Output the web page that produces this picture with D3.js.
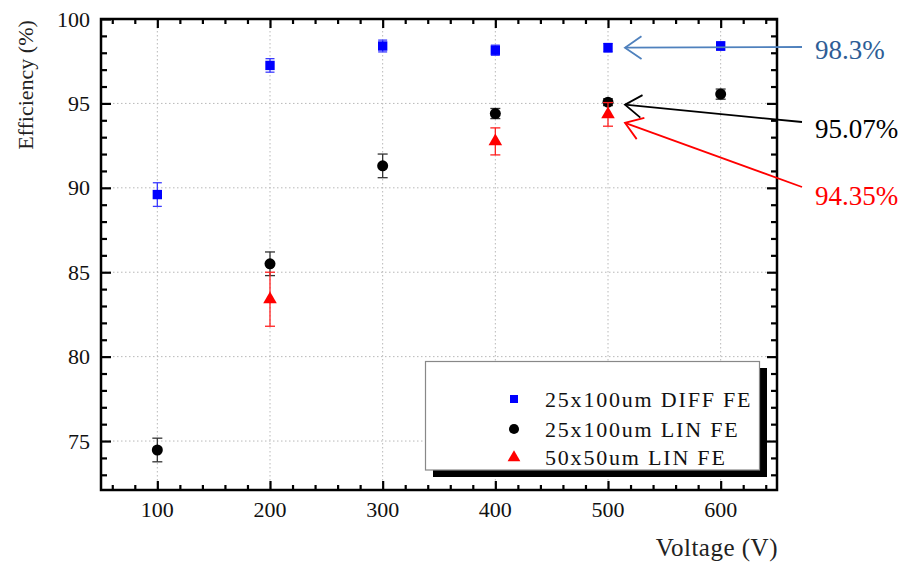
<!DOCTYPE html>
<html><head><meta charset="utf-8">
<script src="https://cdn.jsdelivr.net/npm/d3@7/dist/d3.min.js"></script>
<style>
html,body{margin:0;padding:0;background:#fff;}
</style></head>
<body><svg id="chart" width="904" height="563"></svg>
<script>
// ---- data ----
const voltages = [100, 200, 300, 400, 500, 600];
const diffEff = [89.6, 97.25, 98.4, 98.15, 98.3, 98.4];
const diffErr = [0.7, 0.4, 0.35, 0.3, 0.25, 0.25];
const linEff = [74.47, 85.5, 91.3, 94.4, 95.07, 95.55];
const linErr = [0.7, 0.7, 0.7, 0.3, 0.2, 0.3];
const lin50Volt = [200, 400, 500];
const lin50Eff = [83.4, 92.75, 94.35];
const lin50Err = [1.6, 0.8, 0.7];
const seriesNames = ["25x100um DIFF FE", "25x100um LIN FE", "50x50um LIN FE"];
const xTicks = [100, 200, 300, 400, 500, 600];
const yTicks = [75, 80, 85, 90, 95, 100];
const annoLabels = ["98.3%", "95.07%", "94.35%"];
const annoValues = [98.3, 95.07, 94.35];

// ---- layout ----
const FONT = "Liberation Serif";
const svg = d3.select("#chart").attr("font-family", FONT);
const L = 101, R = 777, T = 19, B = 490;
const x = d3.scaleLinear().domain([50, 650]).range([L, R]);
const y = d3.scaleLinear().domain([72.1, 100]).range([B, T]);

// grid
const grid = svg.append("g").attr("stroke", "#b8b8b8").attr("stroke-width", 1).attr("stroke-dasharray", "1.5,2.5");
grid.selectAll("line.gx").data(xTicks).join("line")
  .attr("x1", d => x(d)).attr("x2", d => x(d)).attr("y1", T).attr("y2", B);
grid.selectAll("line.gy").data(yTicks.filter(d => d < 100)).join("line")
  .attr("y1", d => y(d)).attr("y2", d => y(d)).attr("x1", L).attr("x2", R);

// axes with inward ticks
const xMinor = d3.range(60, 650, 20).filter(d => d % 100 !== 0);
const yMinor = d3.range(73, 100, 1).filter(d => d % 5 !== 0);
const axW = 2.5;
function addAxis(axisFn, scale, tv, len, tr) {
  const g = svg.append("g").attr("transform", tr)
    .call(axisFn(scale).tickValues(tv).tickSize(len).tickFormat(""));
  g.select(".domain").remove();
  g.selectAll(".tick line").attr("stroke", "#000").attr("stroke-width", 2.2);
  return g;
}
addAxis(d3.axisBottom, x, xTicks, -9, `translate(0,${B})`);
addAxis(d3.axisBottom, x, xMinor, -5, `translate(0,${B})`);
addAxis(d3.axisTop, x, xTicks, -9, `translate(0,${T})`);
addAxis(d3.axisTop, x, xMinor, -5, `translate(0,${T})`);
addAxis(d3.axisLeft, y, yTicks, -10, `translate(${L},0)`);
addAxis(d3.axisLeft, y, yMinor, -6, `translate(${L},0)`);
addAxis(d3.axisRight, y, yTicks, -10, `translate(${R},0)`);
addAxis(d3.axisRight, y, yMinor, -6, `translate(${R},0)`);
svg.append("rect").attr("x", L).attr("y", T).attr("width", R - L).attr("height", B - T)
  .attr("fill", "none").attr("stroke", "#000").attr("stroke-width", axW);

// tick labels
svg.append("g").selectAll("text").data(xTicks).join("text")
  .attr("x", d => x(d)).attr("y", 517).attr("text-anchor", "middle").attr("font-family", FONT)
  .attr("font-size", 22).attr("fill", "#111").text(d => d);
svg.append("g").selectAll("text").data(yTicks).join("text")
  .attr("x", 90).attr("y", d => y(d) + 7.5).attr("text-anchor", "end").attr("font-family", FONT)
  .attr("font-size", 22).attr("fill", "#111").text(d => d);

// axis titles
svg.append("text").attr("transform", "translate(33,85) rotate(-90)").attr("font-family", FONT)
  .attr("text-anchor", "middle").attr("font-size", 22).attr("fill", "#222").text("Efficiency (%)");
svg.append("text").attr("x", 778).attr("y", 556).attr("text-anchor", "end").attr("font-family", FONT)
  .attr("font-size", 25).attr("letter-spacing", 0.5).attr("fill", "#222").text("Voltage (V)");

// legend
const lg = svg.append("g");
lg.append("rect").attr("x", 433).attr("y", 368).attr("width", 334).attr("height", 109).attr("fill", "#000");
lg.append("rect").attr("x", 425.5).attr("y", 361.5).attr("width", 334).attr("height", 108.5)
  .attr("fill", "#fff").attr("stroke", "#888").attr("stroke-width", 1.2);

// error bars + markers
function drawSeries(xs, vals, errs, color, errColor, symType, size, capW) {
  const g = svg.append("g");
  const data = xs.map((v, i) => ({v, e: vals[i], err: errs[i]}));
  const eb = g.selectAll("g.eb").data(data).join("g").attr("stroke", errColor).attr("stroke-width", 1.3);
  eb.append("line").attr("x1", d => x(d.v)).attr("x2", d => x(d.v))
    .attr("y1", d => y(d.e + d.err)).attr("y2", d => y(d.e - d.err));
  eb.append("line").attr("x1", d => x(d.v) - capW / 2).attr("x2", d => x(d.v) + capW / 2)
    .attr("y1", d => y(d.e + d.err)).attr("y2", d => y(d.e + d.err));
  eb.append("line").attr("x1", d => x(d.v) - capW / 2).attr("x2", d => x(d.v) + capW / 2)
    .attr("y1", d => y(d.e - d.err)).attr("y2", d => y(d.e - d.err));
  g.selectAll("path").data(data).join("path")
    .attr("d", d3.symbol().type(symType).size(size))
    .attr("transform", d => `translate(${x(d.v)},${y(d.e)})`)
    .attr("fill", color);
}
drawSeries(voltages, diffEff, diffErr, "#0000ff", "#3a3aff", d3.symbolSquare, 88, 9);
drawSeries(voltages, linEff, linErr, "#000", "#333", d3.symbolCircle, 95, 10);
drawSeries(lin50Volt, lin50Eff, lin50Err, "#ff0000", "#ff2020", d3.symbolTriangle, 80, 10);

// legend entries
const legColors = ["#0000ff", "#000", "#ff0000"];
const legSyms = [d3.symbolSquare, d3.symbolCircle, d3.symbolTriangle];
const legSizes = [64, 80, 70];
const legY = [399, 429, 457.5];
seriesNames.forEach((n, i) => {
  lg.append("path").attr("d", d3.symbol().type(legSyms[i]).size(legSizes[i])())
    .attr("transform", `translate(514,${legY[i]})`).attr("fill", legColors[i]);
  lg.append("text").attr("x", 545).attr("y", legY[i] + 7.5).attr("font-size", 22).attr("font-family", FONT)
    .attr("letter-spacing", 1.8).attr("fill", "#111").text(n);
});
lg.raise();

// annotations
const annoTextColors = ["#2e5d96", "#000", "#ff0000"];
const annoLineColors = ["#4f81bd", "#000", "#ff0000"];
const annoTextBase = [59, 138, 205];
const annoLineStartY = [47, 122, 187];
const annoTipDy = [0, 2.5, 8.5];
const ag = svg.append("g");
annoLabels.forEach((t, i) => {
  const tx = x(500) + 17, ty = y(annoValues[i]) + annoTipDy[i];
  const sx = 802, sy = annoLineStartY[i];
  const ang = Math.atan2(sy - ty, sx - tx);
  const wl = 20, wa = 0.6;
  ag.append("line").attr("x1", sx).attr("y1", sy).attr("x2", tx).attr("y2", ty)
    .attr("stroke", annoLineColors[i]).attr("stroke-width", 1.8);
  ag.append("path")
    .attr("d", `M${tx + wl * Math.cos(ang - wa)},${ty + wl * Math.sin(ang - wa)}L${tx},${ty}L${tx + wl * Math.cos(ang + wa)},${ty + wl * Math.sin(ang + wa)}`)
    .attr("fill", "none").attr("stroke", annoLineColors[i]).attr("stroke-width", 1.8);
  ag.append("text").attr("x", 815).attr("y", annoTextBase[i]).attr("font-size", 27).attr("font-family", FONT)
    .attr("fill", annoTextColors[i]).text(t);
});
</script></body></html>
